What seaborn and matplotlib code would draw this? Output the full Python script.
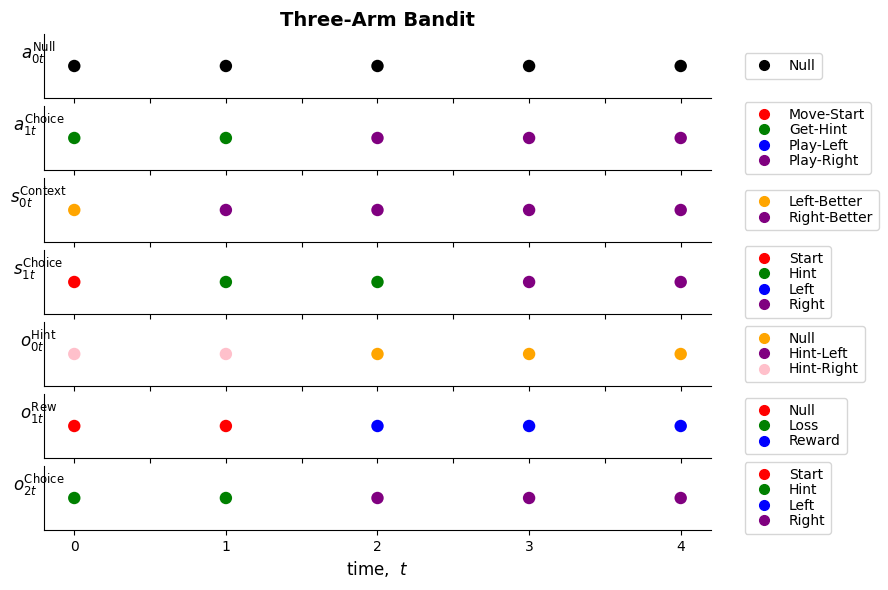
import matplotlib
matplotlib.use("Agg")
import matplotlib.pyplot as plt
from matplotlib.lines import Line2D
import pandas as pd
import seaborn as sns

times = [0, 1, 2, 3, 4]

row_labels = [
    r"$a_{0t}^{\mathrm{Null}}$",
    r"$a_{1t}^{\mathrm{Choice}}$",
    r"$s_{0t}^{\mathrm{Context}}$",
    r"$s_{1t}^{\mathrm{Choice}}$",
    r"$o_{0t}^{\mathrm{Hint}}$",
    r"$o_{1t}^{\mathrm{Rew}}$",
    r"$o_{2t}^{\mathrm{Choice}}$",
]

# categories of each factor
a_null_levels = ["Null"]
a_choice_levels = ["Move-Start", "Get-Hint", "Play-Left", "Play-Right"]
s_context_levels = ["Left-Better", "Right-Better"]
s_choice_levels = ["Start", "Hint", "Left", "Right"]
o_hint_levels = ["Null", "Hint-Left", "Hint-Right"]
o_rew_levels = ["Null", "Loss", "Reward"]
o_choice_levels = ["Start", "Hint", "Left", "Right"]

# colours of each factor
a_null_colors = ["black"]
a_choice_colors = ["red", "green", "blue", "purple"]
s_context_colors = ["orange", "purple"]
s_choice_colors = ["red", "green", "blue", "purple"]
o_hint_colors = ["orange", "purple", "pink"]
o_rew_colors = ["red", "green", "blue"]
o_choice_colors = ["red", "green", "blue", "purple"]

# observed value per time step
a_null = ["Null", "Null", "Null", "Null", "Null"]
a_choice = ["Get-Hint", "Get-Hint", "Play-Right", "Play-Right", "Play-Right"]
s_context = ["Left-Better", "Right-Better", "Right-Better", "Right-Better", "Right-Better"]
s_choice = ["Start", "Hint", "Hint", "Right", "Right"]
o_hint = ["Hint-Right", "Hint-Right", "Null", "Null", "Null"]
o_rew = ["Null", "Null", "Reward", "Reward", "Reward"]
o_choice = ["Hint", "Hint", "Right", "Right", "Right"]

rows = [
    (a_null, a_null_levels, a_null_colors),
    (a_choice, a_choice_levels, a_choice_colors),
    (s_context, s_context_levels, s_context_colors),
    (s_choice, s_choice_levels, s_choice_colors),
    (o_hint, o_hint_levels, o_hint_colors),
    (o_rew, o_rew_levels, o_rew_colors),
    (o_choice, o_choice_levels, o_choice_colors),
]

fig, axes = plt.subplots(len(rows), 1, figsize=(8.88, 5.9))
fig.subplots_adjust(left=0.0495, right=0.8007, top=0.9424, bottom=0.1017, hspace=0.125)

for ax, label, (values, levels, colors) in zip(axes, row_labels, rows):
    df = pd.DataFrame({"t": times, "y": [0] * len(times), "state": values})
    pal = dict(zip(levels, colors))
    sns.scatterplot(data=df, x="t", y="y", hue="state", hue_order=levels,
                    palette=pal, s=80, edgecolor="none", legend=False, ax=ax)
    ax.set_xlim(-0.2, 4.2)
    ax.set_ylim(-1, 1)
    ax.set_yticks([])
    ax.set_xlabel("")
    ax.set_xticklabels([])
    ax.set_ylabel(label, rotation=0, fontsize=12)
    sns.despine(ax=ax)
    handles = [Line2D([], [], marker="o", linestyle="none", color=c,
                      markersize=7) for c in colors]
    ax.legend(handles, levels, loc="center left", bbox_to_anchor=(1.04, 0.5),
              labelspacing=0.1)

axes[-1].set_xticks(times)
axes[-1].set_xticklabels([str(t) for t in times])
axes[-1].set_xlabel(r"time, $\ t$", fontsize=12)
axes[0].set_title("Three-Arm Bandit", fontsize=14, fontweight="bold")

plt.savefig("out.png", dpi=100)
plt.close()
